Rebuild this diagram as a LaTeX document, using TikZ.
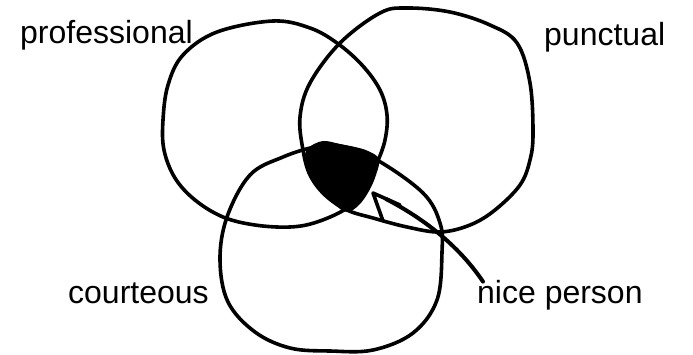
\documentclass[tikz,border=0pt]{standalone}
\usepackage{fontspec}
\setmainfont{Liberation Sans}
\begin{document}
\begin{tikzpicture}[x=1pt,y=-1pt,
  ring/.style={line width=3.6pt, line join=round, line cap=round},
  lbl/.style={anchor=base west, inner sep=0pt, font=\fontsize{32}{36}\selectfont},
  pointer/.style={line width=4pt, line cap=round, line join=round}]
\useasboundingbox (0,0) rectangle (693,354);
% left circle (professional)
\draw[ring] plot[smooth cycle, tension=0.6] coordinates {
 (273,21) (310,28) (337,43) (362,65) (380,90) (387,115) (385,140) (377,163)
 (365,188) (347,208) (317,222) (290,227) (255,225) (223,217) (195,200)
 (175,178) (164,150) (163,120) (168,85) (183,55) (217,32)};
% right circle (punctual)
\draw[ring] plot[smooth cycle, tension=0.6] coordinates {
 (407,8) (450,12) (490,25) (517,43) (530,83) (533,133) (530,160) (520,185)
 (495,210) (470,225) (440,232) (407,227) (373,218) (347,210) (325,195)
 (310,175) (303,150) (300,117) (310,83) (340,43) (380,13)};
% bottom circle (courteous)
\draw[ring] plot[smooth cycle, tension=0.6] coordinates {
 (340,146) (377,160) (423,193) (440,223) (442,252) (437,300) (413,333)
 (373,350) (330,351) (290,348) (255,332) (228,302) (220,260) (227,217)
 (250,175) (283,157) (315,147)};
% intersection blob
\fill plot[smooth cycle, tension=0.6] coordinates {
 (306,151) (314,144) (325,141) (340,144) (355,147) (368,151) (379,159)
 (376,175) (369,191) (359,205) (347,212) (334,204) (319,189) (310,173) (305,160)};
% labels
\node[lbl] (prof) at (20,43) {professional};
\node[lbl] (punc) at (544,45) {punctual};
\node[lbl] (cour) at (68,303) {courteous};
\node[lbl] (np) at (477,303) {nice person};
% arrow
\coordinate (tip) at (373,193);
\draw[pointer] ([xshift=6pt,yshift=-2pt]np.north west) .. controls (455,240) and (415,214) .. (386,199);
\draw[pointer, line width=3.6pt] (400,205) -- (tip) -- (383,221);
\end{tikzpicture}
\end{document}
